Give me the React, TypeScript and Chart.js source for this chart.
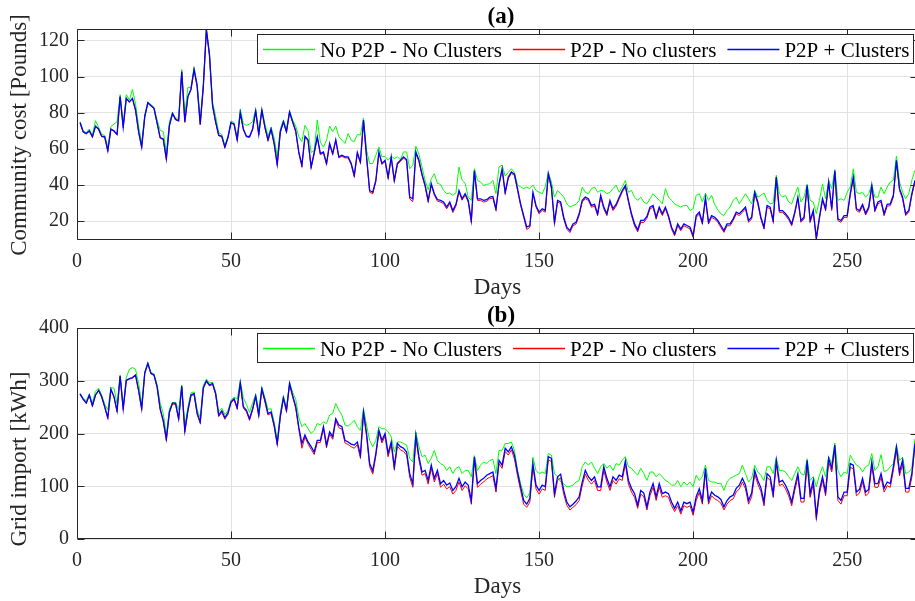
import React, { useEffect, useRef } from "react";
import { Chart, registerables } from "chart.js";

Chart.register(...registerables);

// ---------- data ----------
const DAYS = Array.from({ length: 272 }, (_, i) => i + 1);
const X_TICKS = [0, 50, 100, 150, 200, 250];
const COST_TICKS = [20, 40, 60, 80, 100, 120];
const IMPORT_TICKS = [0, 100, 200, 300, 400];
const SERIES_NAMES = ["No P2P - No Clusters", "P2P - No clusters", "P2P + Clusters"];

// (a) Community cost [Pounds]
const COST_NO_P2P = [
  75, 70, 69, 71, 67.5, 75.6, 72, 68, 67.5, 61,
  72.3, 73.7, 75, 90, 74, 90, 87, 93, 85, 72.6,
  63, 79, 86, 84.5, 83, 76, 70.3, 69.5, 58, 75,
  80, 77, 77, 104, 79, 94, 94, 105, 96, 76,
  95.5, 126.3, 113, 86, 78, 69, 68, 62, 67, 75.5,
  74.5, 66, 82, 74, 73, 73.7, 75, 82, 70, 82,
  74, 67, 72, 66, 56, 71, 76, 71, 81, 76,
  72.6, 66.7, 64, 73, 70, 58, 59, 76, 63.7, 61,
  64.8, 72.6, 69.5, 72.6, 66.7, 64.8, 63, 68.5, 64.8, 64,
  68, 67.6, 77, 59.3, 51.9, 51.9, 56.5, 61, 55.6, 55.9,
  53.7, 55.9, 54.6, 55.6, 54, 58.3, 58.3, 49, 51, 61.5,
  57, 50, 42.6, 37.4, 43.5, 46.3, 40.9, 40.4, 37, 35.2,
  35.6, 34.3, 35.6, 50, 42.6, 41, 33.3, 31.5, 49, 42.6,
  41.7, 39.8, 40.4, 40.7, 42.6, 35.2, 50, 51, 45, 47,
  49, 47, 40, 39, 38, 38.9, 38, 40, 37, 36,
  35.2, 39, 47, 41.7, 33.3, 37, 35.2, 33.3, 29.6, 27.8,
  28.7, 29.3, 31.5, 38.9, 36, 35.2, 38, 38.9, 36, 37,
  36.7, 35.2, 36, 38, 40, 36, 39, 42.5, 36, 37,
  33.3, 31.5, 33.3, 30.6, 29.6, 32.4, 35.2, 33.3, 31.5, 29.6,
  38, 33.3, 31.5, 29.6, 28.7, 27.8, 28.7, 28.7, 25.9, 26.9,
  34.3, 35.2, 30.6, 35.5, 31.5, 34.3, 29.3, 26.3, 24.1, 23.1,
  25.9, 27.8, 31.5, 33.3, 29.6, 32.4, 35.2, 32.4, 29.6, 37,
  33.3, 34.3, 35.6, 31.5, 29.6, 30, 45.4, 35.2, 33.3, 34.3,
  30.6, 29.6, 34.3, 38.9, 30.6, 33.3, 40.5, 31.5, 30.6, 24.1,
  31.5, 40.7, 32.4, 42.5, 38, 48.5, 31.5, 32.4, 31.5, 36,
  38.9, 49, 36, 35.2, 36, 33.3, 35.2, 40.5, 33.3, 33.3,
  38.9, 35.2, 38.9, 41.7, 42.6, 56, 41.7, 36, 32.4, 35.2, 42.6, 48.1,
];
const COST_P2P = [
  74.3, 69.2, 68.2, 69.7, 66.4, 72.3, 70.7, 66.7, 66.4, 58.6,
  70.7, 69.7, 67.7, 88.7, 71.7, 87.7, 85.7, 87.7, 81.2, 69.2,
  60.6, 77.7, 85.2, 83.7, 82.1, 74.1, 65.9, 65.1, 54, 72.7,
  79.3, 76, 75.3, 102.5, 74.6, 88.7, 92.7, 103.7, 94.5, 73.3,
  94.1, 125.8, 111.7, 83.7, 74.7, 67.2, 66.7, 60.6, 66, 74.3,
  73.4, 64.6, 79.7, 70.6, 66.6, 66.3, 70.6, 80.7, 67.6, 81.2,
  71.6, 64.5, 70.6, 62.5, 50.8, 69.1, 74.7, 69.1, 80.2, 74.6,
  69.5, 57.6, 50, 66.5, 64.5, 49.2, 57.4, 66.3, 56.8, 57.7,
  51.2, 62.5, 56.8, 64.5, 55, 55.9, 55, 55, 51.3, 44.5,
  57.4, 52.1, 75.5, 55, 36, 35.2, 41.8, 57.7, 51.3, 53.1,
  43.5, 55, 41.8, 51.3, 53.1, 55, 53.3, 32.3, 30.8, 57.7,
  53, 45.2, 39.1, 30.5, 39.9, 34.4, 31.1, 30.6, 29.7, 26.8,
  29.7, 24.8, 28.4, 36.2, 31.6, 34.4, 30.6, 19.2, 47.3, 31.5,
  31.5, 30.6, 31, 32.4, 32.8, 25.9, 39.9, 48.4, 35.1, 43.6,
  46.5, 45.3, 37.1, 28.7, 22, 15.4, 16.6, 35.2, 27.8, 24.1,
  26, 25, 45.6, 38.2, 18.4, 30.6, 29.7, 21.2, 15.6, 13.7,
  17.5, 18.4, 23.1, 30.6, 32.4, 31.5, 27.7, 28.4, 23.1, 33.2,
  26.8, 23.1, 30.5, 25.9, 28.3, 32.3, 36.1, 38.9, 30.5, 23.1,
  17.4, 14.1, 19.3, 19.3, 21.6, 26.8, 27.7, 21.2, 26.8, 23.1,
  26.8, 22.1, 15.7, 11.9, 17.5, 14.7, 17.5, 16.6, 15.7, 11,
  22.1, 24, 18.4, 32, 18.4, 22.1, 21.2, 19.4, 16.6, 13.8,
  17.5, 17.5, 20.3, 24, 23.1, 24.9, 26.8, 19.4, 21.2, 35,
  29.6, 21.2, 15.7, 27.7, 26.8, 19.4, 43.4, 24.9, 24.9, 23.1,
  20.9, 17.5, 24, 32.3, 19.4, 21.2, 38.8, 19.4, 24.9, 9.7,
  21.2, 31.4, 25.9, 40.7, 25.9, 47, 20.3, 19.4, 22.1, 22.1,
  34.2, 43.4, 25.9, 24.9, 28.3, 23.4, 26.8, 38.8, 25.3, 29.6,
  30.5, 23.1, 28.3, 28.6, 33.3, 52.7, 37, 32.3, 23.1, 24.9, 34.2, 41.6,
];
const COST_P2P_CLUSTERS = [
  74.6, 69.5, 68.5, 70, 66.7, 72.6, 71, 67, 66.7, 59,
  71, 70, 68, 89, 72, 88, 86, 88, 81.5, 69.5,
  61, 78, 85.5, 84, 82.4, 74.4, 66.3, 65.5, 54.6, 73,
  79.6, 76.3, 75.6, 102.8, 75, 89, 93, 104, 94.8, 73.7,
  94.4, 126, 112, 84, 75, 67.6, 67, 61, 66.3, 74.6,
  73.7, 65, 80, 71, 67, 66.7, 71, 81, 68, 81.5,
  72, 65, 71, 63, 51.5, 69.5, 75, 69.5, 80.5, 75,
  70, 58.3, 51, 67, 65, 50, 58, 66.7, 57.4, 58.3,
  52, 63, 57.4, 65, 55.6, 56.5, 55.6, 55.6, 52, 45.4,
  58, 52.8, 76, 55.6, 37, 36, 42.6, 58.3, 52, 53.7,
  44.4, 55.6, 42.6, 52, 53.7, 55.6, 54, 33.3, 32.4, 58.3,
  53.7, 46, 40, 31.5, 40.7, 35.2, 32, 31.5, 30.6, 27.8,
  30.6, 25.9, 29.3, 37, 32.4, 35.2, 31.5, 20.4, 48, 32.4,
  32.4, 31.5, 31.9, 33.3, 33.7, 26.9, 40.7, 49, 36, 44.4,
  47.2, 46, 38, 29.6, 23.1, 16.7, 17.6, 36, 28.7, 25,
  26.9, 26, 46.3, 39, 19.4, 31.5, 30.6, 22.2, 16.7, 14.8,
  18.5, 19.4, 24.1, 31.5, 33.3, 32.4, 28.7, 29.3, 24.1, 34.3,
  27.8, 24.1, 31.5, 26.9, 29.3, 33.3, 37, 39.8, 31.5, 24.1,
  18.5, 15.2, 20.4, 20.4, 22.6, 27.8, 28.7, 22.2, 27.8, 24.1,
  27.8, 23.1, 16.7, 13, 18.5, 15.7, 18.5, 17.6, 16.7, 12,
  23.1, 25, 19.4, 33, 19.4, 23.1, 22.2, 20.4, 17.6, 14.8,
  18.5, 18.5, 21.3, 25, 24.1, 25.9, 27.8, 20.4, 22.2, 36,
  30.6, 22.2, 16.7, 28.7, 27.8, 20.4, 44.4, 25.9, 25.9, 24.1,
  21.9, 18.5, 25, 33.3, 20.4, 22.2, 39.8, 20.4, 25.9, 10.7,
  22.2, 32.4, 26.9, 41.7, 26.9, 48, 21.3, 20.4, 23.1, 23.1,
  35.2, 44.4, 26.9, 25.9, 29.3, 24.4, 27.8, 39.8, 26.3, 30.6,
  31.5, 24.1, 29.3, 29.6, 34.3, 53.7, 38, 33.3, 24.1, 25.9, 35.2, 42.6,
];

// (b) Grid import [kWh]
const IMPORT_NO_P2P = [
  276, 267, 262, 275, 258, 280, 286, 273, 255, 245,
  287, 286, 256, 311, 252, 306, 322, 325, 322, 295,
  256, 317, 335, 316, 313, 293, 258, 238, 198, 246,
  259, 259, 245, 292, 215, 250, 277, 279, 245, 230,
  291, 303, 296, 297, 279, 241, 248, 236, 243, 263,
  269, 265, 300, 268, 255, 240, 258, 274, 245, 288,
  268, 246, 247, 222, 188, 240, 271, 249, 297, 278,
  265, 230, 213, 219, 209, 200, 206, 219, 216, 222,
  219, 235, 238, 257, 244, 235, 216, 214, 219, 225,
  213, 206, 247, 216, 187, 175, 187, 213, 209, 209,
  203, 194, 165, 184, 184, 181, 178, 153, 146, 203,
  175, 156, 159, 143, 153, 168, 149, 143, 140, 130,
  137, 124, 134, 137, 124, 130, 130, 118, 158, 130,
  140, 146, 143, 149, 151, 124, 168, 168, 181, 181,
  184, 168, 130, 105, 85, 78, 88, 155, 130, 124,
  127, 124, 162, 159, 124, 118, 108, 105, 99, 100,
  102, 108, 111, 137, 146, 140, 146, 134, 124, 137,
  143, 134, 140, 130, 143, 140, 149, 156, 137, 134,
  127, 121, 134, 124, 111, 127, 127, 118, 124, 118,
  111, 108, 102, 102, 111, 99, 108, 102, 108, 99,
  121, 111, 118, 140, 111, 108, 108, 105, 106, 92,
  108, 115, 118, 121, 124, 140, 124, 108, 115, 140,
  127, 121, 111, 137, 137, 124, 154, 130, 130, 127,
  118, 111, 124, 137, 124, 121, 152, 111, 118, 99,
  121, 137, 118, 156, 143, 182, 130, 118, 127, 124,
  159, 149, 140, 137, 127, 137, 140, 162, 130, 137,
  160, 128, 130, 137, 143, 178, 149, 155, 124, 127, 134, 190,
];
const IMPORT_P2P = [
  274, 264, 257, 272, 251, 272, 281, 269, 249, 228,
  283, 269, 241, 308, 245, 300, 303, 305, 310, 280,
  245, 314, 332, 313, 310, 287, 245, 222, 186, 239,
  256, 255, 226, 288, 202, 242, 271, 274, 236, 219,
  285, 298, 290, 293, 274, 232, 240, 227, 236, 258,
  264, 246, 294, 248, 241, 225, 244, 269, 232, 283,
  260, 235, 238, 213, 178, 230, 266, 241, 293, 269,
  248, 208, 172, 193, 180, 170, 160, 183, 183, 209,
  173, 199, 189, 224, 211, 208, 182, 179, 175, 172,
  179, 153, 237, 195, 137, 123, 157, 202, 182, 195,
  156, 179, 131, 176, 169, 166, 159, 117, 98, 192,
  150, 121, 124, 104, 134, 108, 124, 98, 104, 95,
  99, 85, 92, 108, 92, 101, 95, 66, 150, 98,
  104, 108, 114, 117, 120, 89, 143, 134, 166, 159,
  169, 152, 120, 92, 66, 60, 70, 137, 95, 85,
  95, 92, 150, 147, 79, 111, 116, 85, 64, 55,
  60, 65, 73, 101, 123, 111, 104, 111, 92, 92,
  130, 108, 92, 111, 104, 114, 111, 142, 104, 89,
  79, 58, 85, 80, 55, 82, 98, 73, 98, 79,
  82, 79, 63, 52, 63, 47, 63, 60, 63, 45,
  73, 88, 66, 127, 66, 82, 76, 73, 68, 55,
  66, 73, 76, 89, 95, 108, 95, 66, 80, 123,
  104, 90, 63, 117, 111, 79, 142, 101, 104, 95,
  82, 63, 92, 117, 70, 70, 142, 79, 104, 37,
  85, 111, 82, 146, 127, 171, 73, 66, 82, 82,
  136, 133, 82, 87, 108, 82, 87, 139, 98, 98,
  117, 89, 101, 98, 130, 168, 120, 142, 89, 89, 117, 176,
];
const IMPORT_P2P_CLUSTERS = [
  275, 265, 258, 273, 253, 273, 282, 270, 251, 230,
  284, 270, 243, 309, 247, 301, 304, 306, 311, 282,
  247, 315, 333, 314, 311, 289, 247, 225, 190, 241,
  258, 257, 228, 290, 205, 244, 273, 276, 239, 222,
  287, 300, 292, 295, 276, 235, 243, 230, 239, 260,
  266, 249, 296, 251, 244, 228, 247, 271, 235, 285,
  263, 238, 241, 216, 181, 233, 268, 244, 295, 272,
  251, 212, 181, 197, 184, 175, 165, 187, 187, 213,
  178, 203, 194, 228, 216, 213, 187, 184, 180, 178,
  184, 159, 241, 200, 143, 129, 162, 206, 187, 200,
  162, 184, 137, 181, 175, 172, 165, 124, 105, 197,
  156, 127, 130, 111, 140, 115, 130, 105, 111, 102,
  106, 92, 99, 115, 99, 108, 102, 73, 156, 105,
  111, 115, 121, 124, 127, 96, 149, 140, 172, 165,
  175, 159, 127, 99, 73, 66, 77, 143, 102, 92,
  102, 99, 156, 153, 86, 118, 123, 92, 70, 61,
  66, 72, 80, 108, 130, 118, 111, 118, 99, 99,
  137, 115, 99, 118, 111, 121, 118, 148, 111, 96,
  86, 64, 92, 87, 61, 89, 105, 80, 105, 86,
  89, 86, 70, 58, 70, 53, 70, 67, 70, 51,
  80, 95, 73, 134, 73, 89, 83, 80, 75, 61,
  73, 80, 83, 96, 102, 115, 102, 73, 87, 130,
  111, 97, 70, 124, 118, 86, 149, 108, 111, 102,
  89, 70, 99, 124, 77, 77, 149, 86, 111, 43,
  92, 118, 89, 153, 134, 178, 80, 73, 89, 89,
  143, 140, 89, 94, 115, 89, 94, 146, 105, 105,
  124, 96, 108, 105, 137, 175, 127, 149, 96, 96, 124, 181,
];

// ---------- styling ----------
const FONT = "'Liberation Serif', 'Times New Roman', Times, serif";
const INK = "#262626";
const GRID = "#e2e2e2";
const COLORS = ["#00ff00", "#ff0000", "#0000ff"];
const WIDTHS = [1, 1, 1.3];
// Chart.js paints lower "order" last (on top): blue over red over green
const ORDERS = [3, 2, 1];
const CANVAS_W = 930;
const CANVAS_H = 300;

const matlabFrame = {
  id: "matlabFrame",
  afterDraw(chart: any, _args: any, opts: any) {
    const { ctx, chartArea, scales } = chart;
    const { left, top, right, bottom } = chartArea;
    const xs = scales.x;
    const ys = scales.y;
    ctx.save();
    ctx.strokeStyle = INK;
    ctx.lineWidth = 1;
    const L = Math.round(left) + 0.5;
    const R = Math.round(right) - 0.5;
    const T = Math.round(top) + 0.5;
    const B = Math.round(bottom) - 0.5;
    const TL = 7;
    ctx.beginPath();
    ctx.rect(L, T, R - L, B - T);
    xs.ticks.forEach((t: any) => {
      const px = Math.round(xs.getPixelForValue(t.value)) + 0.5;
      ctx.moveTo(px, B);
      ctx.lineTo(px, B - TL);
      ctx.moveTo(px, T);
      ctx.lineTo(px, T + TL);
    });
    ys.ticks.forEach((t: any) => {
      const py = Math.round(ys.getPixelForValue(t.value)) + 0.5;
      ctx.moveTo(L, py);
      ctx.lineTo(L + TL, py);
      ctx.moveTo(R, py);
      ctx.lineTo(R - TL, py);
    });
    ctx.stroke();

    // legend box
    const bx0 = 257.5, by0 = 34.5, bx1 = 913.5, by1 = 63.5;
    ctx.fillStyle = "#ffffff";
    ctx.fillRect(bx0, by0, bx1 - bx0, by1 - by0);
    ctx.strokeStyle = INK;
    ctx.lineWidth = 1;
    ctx.strokeRect(bx0, by0, bx1 - bx0, by1 - by0);
    ctx.font = `21px ${FONT}`;
    ctx.textBaseline = "alphabetic";
    ctx.textAlign = "left";
    let x = 263;
    const ly = 49.5;
    chart.data.datasets.forEach((ds: any) => {
      ctx.strokeStyle = ds.borderColor;
      ctx.lineWidth = 1.3;
      ctx.beginPath();
      ctx.moveTo(x, ly);
      ctx.lineTo(x + 52, ly);
      ctx.stroke();
      ctx.fillStyle = "#000";
      const tx = x + 57;
      ctx.fillText(ds.label, tx, 57);
      x = tx + ctx.measureText(ds.label).width + 11;
    });

    // title
    ctx.fillStyle = "#000";
    ctx.font = `bold 23px ${FONT}`;
    ctx.textAlign = "center";
    ctx.textBaseline = "alphabetic";
    ctx.fillText(opts.title, 501, 23);

    // x label
    ctx.font = `23px ${FONT}`;
    ctx.fillStyle = INK;
    ctx.textBaseline = "middle";
    ctx.fillText(opts.xlabel, (left + right) / 2, 288);

    // y label
    ctx.save();
    ctx.translate(20, opts.ylabelY);
    ctx.rotate(-Math.PI / 2);
    ctx.textAlign = "center";
    ctx.textBaseline = "middle";
    ctx.fillText(opts.ylabel, 0, 0);
    ctx.restore();

    ctx.restore();
  },
};

function buildConfig(
  series: number[][],
  yMin: number,
  yMax: number,
  yTicks: number[],
  title: string,
  ylabel: string,
  ylabelY: number
): any {
  return {
    type: "line",
    data: {
      datasets: series.map((vals, i) => ({
        label: SERIES_NAMES[i],
        data: DAYS.map((d, k) => ({ x: d, y: vals[k] })),
        borderColor: COLORS[i],
        borderWidth: WIDTHS[i],
        order: ORDERS[i],
        pointRadius: 0,
        tension: 0,
        fill: false,
      })),
    },
    options: {
      animation: false,
      responsive: false,
      devicePixelRatio: 1,
      events: [],
      layout: { padding: { top: 29, right: 12, left: 0, bottom: 0 } },
      plugins: {
        legend: { display: false },
        tooltip: { enabled: false },
        matlabFrame: { title, ylabel, xlabel: "Days", ylabelY },
      },
      scales: {
        x: {
          type: "linear",
          min: 0,
          max: 273,
          afterBuildTicks: (s: any) => {
            s.ticks = X_TICKS.map((v) => ({ value: v }));
          },
          afterFit: (s: any) => {
            s.height = 60;
          },
          grid: { color: GRID, lineWidth: 1, drawTicks: false },
          border: { display: false },
          ticks: {
            padding: 10,
            color: INK,
            font: { family: FONT, size: 20 },
            maxRotation: 0,
            callback: (v: any) => String(v),
          },
        },
        y: {
          type: "linear",
          min: yMin,
          max: yMax,
          afterBuildTicks: (s: any) => {
            s.ticks = yTicks.map((v) => ({ value: v }));
          },
          afterFit: (s: any) => {
            s.width = 77;
          },
          grid: { color: GRID, lineWidth: 1, drawTicks: false },
          border: { display: false },
          ticks: {
            padding: 8,
            color: INK,
            font: { family: FONT, size: 20 },
            callback: (v: any) => String(v),
          },
        },
      },
    },
    plugins: [matlabFrame],
  };
}

export default function App() {
  const refA = useRef<HTMLCanvasElement | null>(null);
  const refB = useRef<HTMLCanvasElement | null>(null);

  useEffect(() => {
    const a = new Chart(
      refA.current as HTMLCanvasElement,
      buildConfig(
        [COST_NO_P2P, COST_P2P, COST_P2P_CLUSTERS],
        9.6,
        126.3,
        COST_TICKS,
        "(a)",
        "Community cost [Pounds]",
        135
      )
    );
    const b = new Chart(
      refB.current as HTMLCanvasElement,
      buildConfig(
        [IMPORT_NO_P2P, IMPORT_P2P, IMPORT_P2P_CLUSTERS],
        0,
        400,
        IMPORT_TICKS,
        "(b)",
        "Grid import [kWh]",
        160
      )
    );
    return () => {
      a.destroy();
      b.destroy();
    };
  }, []);

  return (
    <div
      style={{
        position: "absolute",
        left: 0,
        top: 0,
        width: 915,
        height: 601,
        overflow: "hidden",
        background: "#ffffff",
      }}
    >
      <canvas
        ref={refA}
        width={CANVAS_W}
        height={CANVAS_H}
        style={{ position: "absolute", left: 0, top: 0, width: CANVAS_W, height: CANVAS_H }}
      />
      <canvas
        ref={refB}
        width={CANVAS_W}
        height={CANVAS_H}
        style={{ position: "absolute", left: 0, top: 299, width: CANVAS_W, height: CANVAS_H }}
      />
    </div>
  );
}
